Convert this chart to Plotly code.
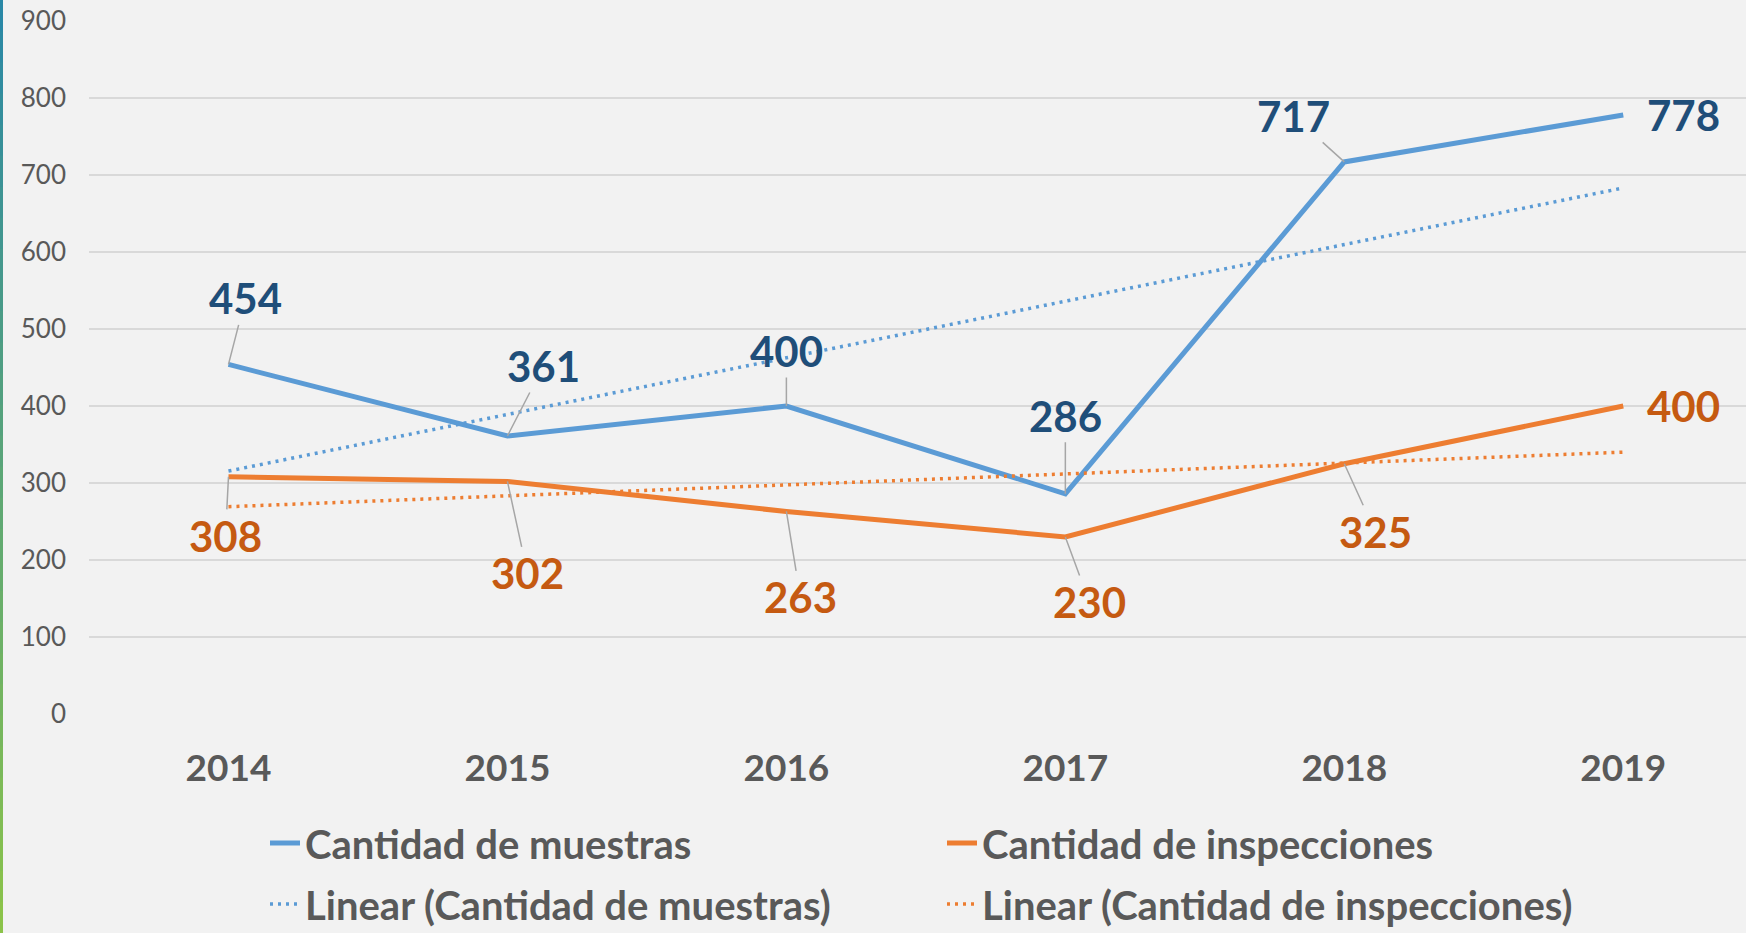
import plotly.graph_objects as go

# ---------------- data ----------------
years = ["2014", "2015", "2016", "2017", "2018", "2019"]
muestras = [454, 361, 400, 286, 717, 778]
inspecciones = [308, 302, 263, 230, 325, 400]

# linear trend lines (end points)
trend_years = ["2014", "2019"]
trend_muestras = [315.5, 683.2]
trend_inspecciones = [269.2, 340.1]

y_ticks = [0, 100, 200, 300, 400, 500, 600, 700, 800, 900]

# label offsets in pixels (style only)
off_muestras = [(17, -66), (36, -70), (0, -55), (0, -78), (-51, -46), None]
off_insp = [(-3, 59), (20, 92), (14, 86), (24, 65), (31, 68), None]

BLUE = "#5B9BD5"
ORANGE = "#ED7D31"
BLUE_LBL = "#1F4E79"
ORANGE_LBL = "#C55A11"
GREY_TXT = "#595959"
FONT = "Lato"

fig = go.Figure()
fig.add_trace(go.Scatter(x=years, y=muestras, mode="lines", name="Cantidad de muestras",
                         line=dict(color=BLUE, width=5), legend="legend"))
fig.add_trace(go.Scatter(x=years, y=inspecciones, mode="lines", name="Cantidad de inspecciones",
                         line=dict(color=ORANGE, width=5), legend="legend"))
fig.add_trace(go.Scatter(x=trend_years, y=trend_muestras, mode="lines",
                         name="Linear (Cantidad de muestras)",
                         line=dict(color=BLUE, width=3.5, dash="3px,5px"), legend="legend2"))
fig.add_trace(go.Scatter(x=trend_years, y=trend_inspecciones, mode="lines",
                         name="Linear (Cantidad de inspecciones)",
                         line=dict(color=ORANGE, width=3.5, dash="3px,5px"), legend="legend2"))

annotations = []
for series, offs, col in ((muestras, off_muestras, BLUE_LBL), (inspecciones, off_insp, ORANGE_LBL)):
    for i, (v, off) in enumerate(zip(series, offs)):
        base = dict(x=i, y=v, xref="x", yref="y", text="<b>%d</b>" % v,
                    font=dict(family=FONT, size=42, color=col))
        if off is None:
            base.update(showarrow=False, xshift=60, xanchor="center", yanchor="middle")
        else:
            base.update(showarrow=True, axref="pixel", ayref="pixel", ax=off[0], ay=off[1],
                        arrowhead=0, arrowwidth=1.5, arrowcolor="#A6A6A6", standoff=0)
        annotations.append(base)

# decorative gradient bar on the left edge
W, H = 1746, 933
c_top = (42, 136, 166)
c_bot = (139, 195, 74)
n = 30
shapes = []
for k in range(n):
    t = k / (n - 1)
    c = tuple(int(round(a + (b - a) * t)) for a, b in zip(c_top, c_bot))
    py0 = k * H / n
    py1 = (k + 1) * H / n + 1
    shapes.append(dict(type="rect", xref="paper", yref="paper",
                       x0=-89 / 1657, x1=-86 / 1657,
                       y0=(714 - py1) / 693, y1=(714 - py0) / 693,
                       line=dict(width=0), fillcolor="rgb(%d,%d,%d)" % c, layer="above"))

legend_common = dict(orientation="h", xref="container", yref="container",
                     xanchor="left", yanchor="middle", bgcolor="rgba(0,0,0,0)",
                     font=dict(family=FONT, size=40, color=GREY_TXT, weight="bold"),
                     entrywidth=632, entrywidthmode="pixels", itemwidth=30)

fig.update_layout(
    width=W, height=H,
    margin=dict(l=89, r=0, t=21, b=219, autoexpand=False),
    paper_bgcolor="#F2F2F2", plot_bgcolor="#F2F2F2",
    showlegend=True,
    legend=dict(**legend_common, x=265 / W, y=(H - 843) / H),
    legend2=dict(**legend_common, x=265 / W, y=(H - 904) / H),
    xaxis=dict(type="category", range=[-0.5, 5.44], showgrid=False, showline=False,
               zeroline=False, ticks="", ticklabelstandoff=29, automargin=False,
               tickfont=dict(family=FONT, size=37, color=GREY_TXT, weight="bold")),
    yaxis=dict(range=[0, 900], tickvals=y_ticks, showgrid=True, gridcolor="#D9D9D9",
               gridwidth=1.5, zeroline=False, showline=False, ticks="", automargin=False,
               ticklabelstandoff=22,
               tickfont=dict(family=FONT, size=26, color=GREY_TXT)),
    annotations=annotations,
    shapes=shapes,
)

fig.write_html("out.html",
               config={"displayModeBar": False},
               post_script="document.body.style.margin='0';"
                           "document.body.style.background='#F2F2F2';")
